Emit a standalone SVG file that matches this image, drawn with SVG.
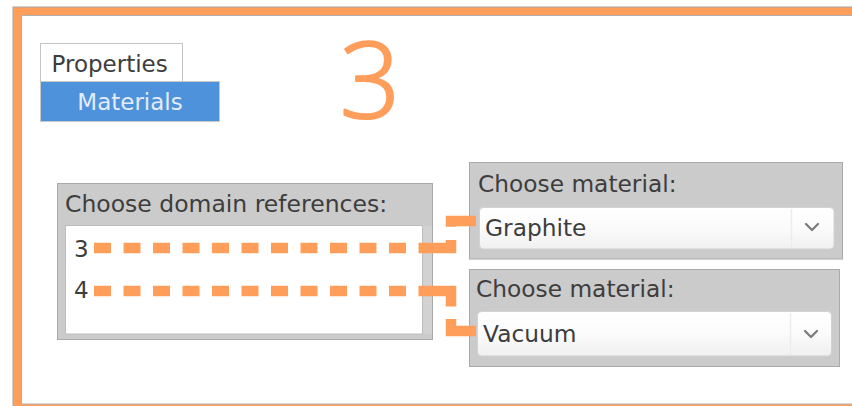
<svg xmlns="http://www.w3.org/2000/svg" width="852" height="406" viewBox="0 0 852 406">
  <defs>
    <style>
      .ui { font-family: "DejaVu Sans", "Liberation Sans", sans-serif; fill: #3d3d3d; }
      .panel { fill: #cbcbcb; stroke: #a9a9a9; stroke-width: 1; }
      .combo { fill: url(#comboFill); stroke: #d2d2d2; stroke-width: 1; }
      .chev { fill: none; stroke: #7a7a7a; stroke-width: 2.2; stroke-linecap: round; stroke-linejoin: round; }
      .link { fill: none; stroke: #FF9E5B; stroke-width: 10.5; stroke-linecap: butt; stroke-linejoin: miter; }
    </style>
    <linearGradient id="comboFill" x1="0" y1="0" x2="0" y2="1">
      <stop offset="0" stop-color="#ffffff"/>
      <stop offset="0.5" stop-color="#fbfbfb"/>
      <stop offset="1" stop-color="#f0f0f0"/>
    </linearGradient>
  </defs>

  <rect width="852" height="406" fill="#ffffff"/>

  <!-- orange frame with grey edges -->
  <g id="frame">
    <rect x="13" y="7" width="850" height="405" fill="#FF9E5B" stroke="#a4a4a4" stroke-width="1"/>
    <rect x="21.5" y="15.5" width="840" height="388.5" fill="#ffffff" stroke="#b0b0b0" stroke-width="1"/>
  </g>

  <!-- tabs -->
  <g id="tab-properties">
    <rect x="40.5" y="43.5" width="142" height="38" fill="#ffffff" stroke="#c4c4c4"/>
    <text class="ui" x="51.5" y="71.5" font-size="23">Properties</text>
  </g>
  <g id="tab-materials">
    <rect x="40.5" y="81.5" width="179" height="40" fill="#4E92DB" stroke="#c8c8c8"/>
    <text class="ui" x="130" y="109.5" font-size="23" text-anchor="middle" style="fill:#e3ecf8">Materials</text>
  </g>

  <!-- step number -->
  <g id="step-number">
    <text x="370" y="118" font-family="'Open Sans', 'DejaVu Sans', sans-serif" font-weight="300" font-size="106" fill="#FF9E5B" stroke="#FF9E5B" stroke-width="2.2" stroke-linejoin="round" text-anchor="middle">3</text>
  </g>

  <!-- domain list -->
  <g id="domain-panel">
    <rect class="panel" x="57.5" y="183.5" width="375" height="156"/>
    <rect x="422" y="226" width="10" height="108" fill="#d2d2d2"/>
    <text class="ui" x="65" y="212" font-size="23.5">Choose domain references:</text>
    <rect x="65.5" y="225.5" width="357" height="108.5" fill="#ffffff" stroke="#bdbdbd"/>
    <text class="ui" x="74" y="257" font-size="23">3</text>
    <text class="ui" x="74" y="298" font-size="23">4</text>
  </g>

  <!-- material selectors -->
  <g id="material-graphite">
    <rect class="panel" x="469.5" y="162.5" width="373" height="96.5"/>
    <text class="ui" x="478" y="192" font-size="23.3">Choose material:</text>
    <rect class="combo" x="479.5" y="207.5" width="354.5" height="41.5" rx="4"/>
    <line x1="791.5" y1="209" x2="791.5" y2="248" stroke="#ececec" stroke-width="1.5"/>
    <text class="ui" x="485" y="236" font-size="23.3">Graphite</text>
    <polyline class="chev" points="806,224 812,230 818,224"/>
  </g>
  <g id="material-vacuum">
    <rect class="panel" x="469.5" y="269.5" width="370" height="97"/>
    <text class="ui" x="476" y="297" font-size="23.3">Choose material:</text>
    <rect class="combo" x="477.5" y="311.5" width="354" height="44.5" rx="4"/>
    <line x1="790.5" y1="313" x2="790.5" y2="355" stroke="#ececec" stroke-width="1.5"/>
    <text class="ui" x="483" y="342" font-size="23.3">Vacuum</text>
    <polyline class="chev" points="805,331 811,337 817,331"/>
  </g>

  <!-- dashed connectors from domain entries to material selectors -->
  <g id="connectors">
    <path class="link" d="M94 248 H451 V221 H476"
          stroke-dasharray="17 12.5 17 12.5 17 12.5 17 12.5 17 12.5 17 12.5 17 12.5 17 12.5 17 12.5 17 12.5 17 12.5 40.5 13.3 60"/>
    <path class="link" d="M94 291 H451 V331 H476"
          stroke-dasharray="17 12.5 17 12.5 17 12.5 17 12.5 17 12.5 17 12.5 17 12.5 17 12.5 17 12.5 17 12.5 17 12.5 48 12.5 60"/>
  </g>
</svg>
